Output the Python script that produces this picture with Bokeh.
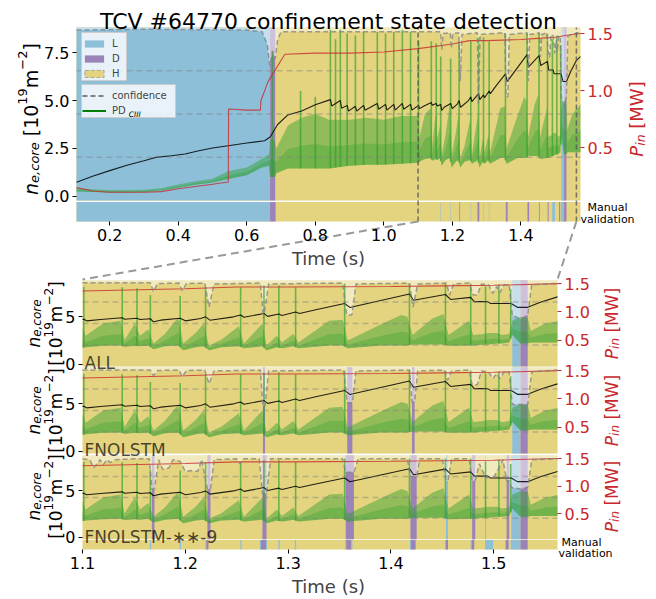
import numpy as np
from math import pi
from bokeh.plotting import figure
from bokeh.models import (Range1d, LinearAxis, FixedTicker, Label, Legend, LegendItem,
                          PrintfTickFormatter)
from bokeh.embed import file_html
from bokeh.resources import INLINE

# ---------------- data ----------------
shot_title = "TCV #64770 confinement state detection"
time_lim = [0.103, 1.574]
zoom_lim = [1.1, 1.562]

ne_t = [0.103, 0.15, 0.2, 0.25, 0.3, 0.334, 0.38, 0.42, 0.46, 0.5, 0.546, 0.6, 0.652, 0.668, 0.69, 0.72,
        0.76, 0.8, 0.844, 0.848, 0.873, 0.877, 0.893, 0.897, 0.917, 0.921, 0.941, 0.945, 0.981, 0.985,
        1.005, 1.009, 1.029, 1.033, 1.054, 1.058, 1.078, 1.082, 1.1013, 1.104, 1.1175, 1.1386, 1.141,
        1.153, 1.156, 1.166, 1.169, 1.176, 1.195, 1.2, 1.215, 1.2197, 1.224, 1.247, 1.2538, 1.257,
        1.2765, 1.28, 1.291, 1.294, 1.3073, 1.311, 1.328, 1.355, 1.36, 1.418, 1.422, 1.453, 1.458,
        1.4776, 1.481, 1.494, 1.497, 1.517, 1.523, 1.533, 1.546, 1.562, 1.574]
ne_v = [0.73, 1.05, 1.34, 1.62, 1.86, 2.03, 2.12, 2.21, 2.38, 2.52, 2.64, 2.78, 2.9, 3.1, 3.75, 4.25,
        4.46, 4.78, 5.05, 4.72, 5.0, 4.6, 4.75, 4.45, 4.7, 4.45, 4.75, 4.5, 4.85, 4.55,
        4.8, 4.5, 4.8, 4.5, 4.85, 4.55, 4.8, 4.5, 4.75, 4.58, 4.72, 4.9, 4.75,
        4.85, 4.72, 4.8, 4.48, 4.65, 4.85, 4.58, 4.83, 5.0, 4.65, 5.0, 5.2, 4.95,
        5.36, 5.05, 5.3, 5.15, 5.5, 5.36, 5.78, 6.4, 5.99, 7.4, 6.75, 7.35, 6.83,
        7.05, 6.6, 6.6, 6.4, 6.4, 6.0, 6.0, 6.55, 7.1, 7.3]

pin_t = [0.103, 0.15, 0.2, 0.3, 0.35, 0.4, 0.45, 0.5, 0.546, 0.547, 0.6, 0.64, 0.641, 0.662, 0.711,
         0.8, 0.9, 1.0, 1.1, 1.2, 1.25, 1.3, 1.4, 1.45, 1.5, 1.562, 1.574]
pin_v = [0.15, 0.12, 0.11, 0.11, 0.115, 0.14, 0.16, 0.18, 0.2, 0.84, 0.83, 0.83, 0.91, 1.08, 1.32,
         1.33, 1.33, 1.34, 1.37, 1.41, 1.44, 1.44, 1.45, 1.46, 1.47, 1.5, 1.5]

pd_t = [0.103, 0.15, 0.2, 0.25, 0.3, 0.35, 0.4, 0.45, 0.5, 0.546, 0.6, 0.643, 0.665, 0.668, 0.682, 0.686,
        0.72, 0.76, 0.8, 0.84, 0.9, 0.95, 1.0, 1.05, 1.099, 1.103, 1.12, 1.137, 1.141, 1.151, 1.156,
        1.164, 1.169, 1.18, 1.193, 1.198, 1.21, 1.218, 1.223, 1.235, 1.252, 1.257, 1.275, 1.279, 1.289,
        1.294, 1.305, 1.31, 1.34, 1.353, 1.358, 1.39, 1.41, 1.416, 1.421, 1.44, 1.451, 1.456, 1.476,
        1.48, 1.49, 1.495, 1.503, 1.508, 1.515, 1.518, 1.526, 1.533, 1.536, 1.55, 1.574]
pd_lo = [0.25, 0.22, 0.2, 0.2, 0.22, 0.3, 0.45, 0.6, 0.72, 0.9, 1.1, 1.5, 1.6, 1.0, 1.0, 1.2,
         1.45, 1.45, 1.45, 1.45, 1.6, 1.65, 1.65, 1.7, 1.75, 1.8, 1.95, 2.0, 1.85, 1.95, 1.9,
         2.0, 1.6, 1.9, 2.0, 1.5, 1.8, 1.9, 1.5, 1.8, 1.9, 1.7, 1.9, 1.5, 1.8,
         1.7, 1.9, 1.7, 2.0, 2.0, 1.7, 2.0, 2.0, 2.0, 2.1, 2.1, 2.1, 1.95, 2.0,
         2.0, 2.1, 2.1, 2.2, 2.2, 2.3, 3.1, 2.2, 2.2, 2.3, 2.3, 2.3]
pd_hi = [0.42, 0.36, 0.32, 0.32, 0.34, 0.42, 0.62, 0.78, 0.92, 1.3, 1.5, 1.95, 2.2, 3.0, 2.9, 2.5,
         3.7, 4.1, 4.3, 4.0, 4.0, 4.1, 4.0, 4.2, 4.2, 3.0, 4.3, 4.6, 2.6, 4.3, 3.0,
         3.7, 2.2, 3.2, 4.9, 2.2, 3.3, 4.3, 2.0, 2.6, 4.0, 2.2, 4.3, 2.0, 3.0,
         2.3, 3.2, 2.3, 4.6, 4.7, 2.5, 4.2, 5.2, 5.0, 3.1, 4.8, 5.3, 3.1, 4.6,
         3.1, 3.2, 3.3, 3.3, 3.1, 3.2, 4.6, 5.0, 4.9, 3.5, 4.3, 4.8]

elm_t = [0.675, 0.757, 0.8, 0.844, 0.859, 0.873, 0.893, 0.917, 0.941, 0.981, 1.005, 1.029, 1.054, 1.078,
         1.1013, 1.1386, 1.153, 1.166, 1.195, 1.2197, 1.2538, 1.2765, 1.291, 1.3073, 1.355, 1.418,
         1.453, 1.4776, 1.492, 1.505, 1.5165]
elm_peak = [7.6, 5.5, 5.2, 8.7, 8.2, 8.7, 8.5, 8.4, 8.6, 8.6, 8.5, 8.6, 8.7, 8.6,
            8.15, 8.1, 8.0, 7.3, 7.2, 8.1, 8.1, 8.3, 8.3, 8.1, 8.5, 8.5,
            8.5, 8.5, 8.2, 8.4, 7.9]

conf_all_t = [0.103, 0.3, 0.6, 0.645, 0.66, 0.667, 0.675, 0.683, 0.69, 0.7, 1.166, 1.169, 1.173, 1.194,
              1.197, 1.201, 1.219, 1.223, 1.228, 1.273, 1.276, 1.281, 1.353, 1.357, 1.362, 1.366,
              1.418, 1.4215, 1.426, 1.454, 1.457, 1.461, 1.476, 1.48, 1.484, 1.488, 1.495, 1.499,
              1.503, 1.506, 1.51, 1.515, 1.518, 1.526, 1.533, 1.537, 1.574]
conf_all_v = [0.985, 0.99, 0.985, 0.975, 0.9, 0.78, 0.86, 0.82, 0.93, 0.975, 0.975, 0.87, 0.965, 0.97,
              0.88, 0.965, 0.97, 0.69, 0.96, 0.97, 0.56, 0.96, 0.97, 0.6, 0.6, 0.96,
              0.97, 0.69, 0.96, 0.97, 0.83, 0.96, 0.97, 0.83, 0.83, 0.96, 0.95, 0.85,
              0.93, 0.86, 0.95, 0.95, 0.6, 0.55, 0.6, 0.95, 0.975]

conf_fno_t = [1.1, 1.166, 1.169, 1.173, 1.194, 1.197, 1.201, 1.219, 1.223, 1.228, 1.273, 1.2755, 1.2775,
              1.281, 1.354, 1.3575, 1.3625, 1.366, 1.418, 1.4205, 1.423, 1.426, 1.452, 1.455, 1.459,
              1.476, 1.479, 1.484, 1.488, 1.495, 1.499, 1.503, 1.506, 1.51, 1.515, 1.518, 1.533, 1.537, 1.562]
conf_fno_v = [0.97, 0.97, 0.905, 0.965, 0.97, 0.89, 0.965, 0.97, 0.81, 0.96, 0.97, 0.55, 0.55,
              0.96, 0.97, 0.59, 0.59, 0.96, 0.97, 0.6, 0.6, 0.96, 0.97, 0.85, 0.96,
              0.97, 0.8, 0.8, 0.96, 0.95, 0.87, 0.93, 0.87, 0.95, 0.95, 0.57, 0.57, 0.95, 0.97]

conf_fno9_t = [1.1, 1.107, 1.111, 1.117, 1.12, 1.124, 1.127, 1.132, 1.15, 1.165, 1.1675, 1.17, 1.174,
               1.178, 1.184, 1.188, 1.195, 1.2, 1.206, 1.212, 1.216, 1.2215, 1.2245, 1.228, 1.25, 1.253,
               1.256, 1.272, 1.275, 1.279, 1.283, 1.353, 1.356, 1.364, 1.368, 1.416, 1.419, 1.425, 1.428,
               1.45, 1.4535, 1.4555, 1.459, 1.476, 1.479, 1.482, 1.486, 1.4915, 1.494, 1.5, 1.505, 1.509,
               1.5125, 1.515, 1.517, 1.526, 1.533, 1.537, 1.562]
conf_fno9_v = [0.96, 0.95, 0.855, 0.95, 0.89, 0.95, 0.915, 0.95, 0.96, 0.96, 0.6, 0.6, 0.95,
               0.835, 0.85, 0.95, 0.93, 0.81, 0.82, 0.81, 0.95, 0.6, 0.6, 0.95, 0.96, 0.9,
               0.96, 0.96, 0.55, 0.55, 0.96, 0.96, 0.8, 0.8, 0.96, 0.96, 0.75, 0.75, 0.96,
               0.96, 0.7, 0.7, 0.96, 0.96, 0.7, 0.7, 0.9, 0.75, 0.735, 0.74, 0.85, 0.95,
               0.7, 0.7, 0.62, 0.6, 0.62, 0.95, 0.96]

# non-H detected states (H elsewhere)
all_st_start = [0.103, 0.668, 1.518, 1.526]
all_st_end = [0.668, 0.683, 1.526, 1.533]
all_st_kind = ["L", "D", "L", "D"]
fno_st_start = [1.2755, 1.3575, 1.4205, 1.518, 1.526]
fno_st_end = [1.2775, 1.3625, 1.423, 1.526, 1.533]
fno_st_kind = ["D", "D", "D", "L", "D"]
fno9_st_start = [1.1675, 1.2215, 1.275, 1.356, 1.419, 1.4535, 1.479, 1.4915, 1.5125, 1.517, 1.526]
fno9_st_end = [1.17, 1.2245, 1.279, 1.364, 1.425, 1.4555, 1.482, 1.4925, 1.515, 1.526, 1.533]
fno9_st_kind = ["D", "D", "D", "D", "D", "L", "D", "L", "D", "L", "D"]

# manual validation (non-H intervals)
man_start = [0.103, 0.668, 1.1655, 1.1945, 1.2195, 1.2205, 1.2535, 1.2725, 1.2735, 1.2785, 1.2905, 1.3065,
             1.3555, 1.3565, 1.3615, 1.4185, 1.4195, 1.4525, 1.4535, 1.4775, 1.4785, 1.4915, 1.5115,
             1.5165, 1.526]
man_end = [0.668, 0.684, 1.1668, 1.1958, 1.2205, 1.2225, 1.2548, 1.2735, 1.2785, 1.2795, 1.2918, 1.3078,
           1.3565, 1.3615, 1.3625, 1.4195, 1.424, 1.4535, 1.4555, 1.4785, 1.481, 1.4995, 1.5145,
           1.526, 1.533]
man_kind = ["L", "D", "L", "L", "L", "D", "L", "L", "D", "L", "L", "L",
            "L", "D", "L", "L", "D", "L", "D", "L", "D", "L", "D", "L", "D"]

panel_names = ["ALL", "FNOLSTM", "FNOLSTM-\u2217\u2217-9"]
top_left_ticks = [0, 2.5, 5, 7.5]
zoom_left_ticks = [0, 5]
pin_ticks = [0.5, 1.0, 1.5]
top_time_ticks = [0.2, 0.4, 0.6, 0.8, 1.0, 1.2, 1.4]
zoom_time_ticks = [1.1, 1.2, 1.3, 1.4, 1.5]

# ---------------- style / layout ----------------
FONT = "DejaVu Sans"
C = {"L": "#8dbfd9", "D": "#9b82b9", "H": "#e4d47f"}
RED = "#c8282c"
GREEN = "#2ca02c"
LEFT_LO, LEFT_HI = -1.32, 8.82
CONF_LO = -0.22
STRIP_TOP = -0.3
PIN_LO, PIN_HI = -0.147, 1.555
WIDTH, HEIGHT = 656, 599

# plot rectangles in page pixels: (x0, x1, y0, y1)
TOP_BOX = (76, 580, 27, 221)
PANEL_BOX = [(82, 557, 280, 366), (82, 557, 367, 453), (82, 557, 455, 549)]
LEGEND_BOX = [(81, 126, 32, 80), (81, 175, 84, 117)]


def to_pin(v):
    return PIN_LO + (v - LEFT_LO) * (PIN_HI - PIN_LO) / (LEFT_HI - LEFT_LO)


def xrange_for(x0, x1, lo, hi):
    s = (x1 - x0) / (hi - lo)
    return Range1d(lo - x0 / s, hi + (WIDTH - x1) / s)


def yrange_for(y0, y1, lo, hi):
    s = (y1 - y0) / (hi - lo)
    return Range1d(lo - (HEIGHT - y1) / s, hi + y0 / s)


def top_px(t):
    x0, x1 = TOP_BOX[0], TOP_BOX[1]
    return x0 + (t - time_lim[0]) * (x1 - x0) / (time_lim[1] - time_lim[0])


def clip_series(t, v, lim):
    """Restrict a series to the shown time window (end values taken on the series)."""
    t = np.asarray(t, float)
    v = np.asarray(v, float)
    m = (t > lim[0]) & (t < lim[1])
    tt = np.concatenate([[lim[0]], t[m], [lim[1]]])
    vv = np.concatenate([[np.interp(lim[0], t, v)], v[m], [np.interp(lim[1], t, v)]])
    return tt, vv


def clip_intervals(s, e, k, lim):
    out = [(max(a, lim[0]), min(b, lim[1]), c) for a, b, c in zip(s, e, k) if b > lim[0] and a < lim[1]]
    return [o[0] for o in out], [o[1] for o in out], [o[2] for o in out]


W = {'n': .634, 'e': .615, ',': .318, 'c': .55, 'o': .612, 'r': .411, ' ': .318, '[': .39, ']': .39,
     '1': .636, '0': .636, '9': .636, '2': .636, 'm': .974, '\u2212': .838, 'P': .603, 'i': .278,
     'M': .863, 'W': .989, 'D': .770}


def tw(s, size):
    return sum(W.get(ch, 0.6) for ch in s) * size


p = figure(width=WIDTH, height=HEIGHT, x_range=Range1d(0, WIDTH), y_range=Range1d(HEIGHT, 0),
           output_backend="svg", toolbar_location=None, tools="",
           min_border_left=0, min_border_right=0, min_border_top=0, min_border_bottom=0,
           x_axis_location=None, y_axis_location=None)
p.outline_line_color = None
p.xgrid.visible = False
p.ygrid.visible = False
p.background_fill_color = "white"
p.border_fill_color = "white"

p.extra_x_ranges = {"xt": xrange_for(TOP_BOX[0], TOP_BOX[1], *time_lim),
                    "xz": xrange_for(PANEL_BOX[0][0], PANEL_BOX[0][1], *zoom_lim)}
p.extra_y_ranges = {"yt": yrange_for(TOP_BOX[2], TOP_BOX[3], LEFT_LO, LEFT_HI),
                    "pt": yrange_for(TOP_BOX[2], TOP_BOX[3], PIN_LO, PIN_HI)}
panel_ylim = [(CONF_LO, LEFT_HI), (CONF_LO, LEFT_HI), (LEFT_LO, LEFT_HI)]
panel_plim = [(to_pin(CONF_LO), PIN_HI), (to_pin(CONF_LO), PIN_HI), (PIN_LO, PIN_HI)]
for i, box in enumerate(PANEL_BOX):
    p.extra_y_ranges[f"y{i}"] = yrange_for(box[2], box[3], *panel_ylim[i])
    p.extra_y_ranges[f"p{i}"] = yrange_for(box[2], box[3], *panel_plim[i])


def txt(x, y, text, size, align="left", baseline="alphabetic", color="black", alpha=1.0,
        style="normal", angle=0.0):
    p.add_layout(Label(x=x, y=HEIGHT - y, x_units="screen", y_units="screen", text=text, angle=angle,
                       text_align=align, text_baseline=baseline, text_font=FONT,
                       text_font_size=f"{size}px", text_font_style=style, text_color=color,
                       text_alpha=alpha))


def rot_text(pieces, base_x, center_y, color="black"):
    total = sum(tw(t, s) for t, s, it, sh in pieces)
    y = center_y + total / 2.0
    for t, s, it, sh in pieces:
        lead = len(t) - len(t.lstrip(" "))
        y -= tw(" " * lead, s)
        core = t.lstrip(" ")
        txt(base_x - sh, y, core, s, color=color, style="italic" if it else "normal", angle=pi / 2)
        y -= tw(core, s)


def style_axis(ax, color="black", size="16px"):
    ax.axis_line_color = None
    ax.major_tick_line_color = color
    ax.major_tick_out = 4
    ax.major_tick_in = 0
    ax.minor_tick_line_color = None
    ax.major_label_text_font = FONT
    ax.major_label_text_font_size = size
    ax.major_label_text_color = color
    ax.major_label_standoff = 3
    ax.axis_label_text_font = FONT
    ax.axis_label_text_font_size = "18px"
    ax.axis_label_text_font_style = "normal"
    ax.axis_label_standoff = 4


def add_axes(xn, yn, pn, xlim, ylim, left_ticks, left_fmt, time_ticks=None):
    la = LinearAxis(x_range_name=xn, y_range_name=yn, fixed_location=xlim[0],
                    ticker=FixedTicker(ticks=left_ticks), formatter=PrintfTickFormatter(format=left_fmt))
    style_axis(la)
    p.add_layout(la, "left")
    ra = LinearAxis(x_range_name=xn, y_range_name=pn, fixed_location=xlim[1],
                    ticker=FixedTicker(ticks=pin_ticks), formatter=PrintfTickFormatter(format="%.1f"))
    style_axis(ra, RED)
    p.add_layout(ra, "right")
    if time_ticks is not None:
        xa = LinearAxis(x_range_name=xn, y_range_name=yn, fixed_location=ylim[0],
                        ticker=FixedTicker(ticks=time_ticks), formatter=PrintfTickFormatter(format="%.1f"),
                        axis_label="Time (s)")
        style_axis(xa)
        p.add_layout(xa, "below")


def draw_content(xn, yn, pn, xlim, ylo, conf_t, conf_v, st_s, st_e, st_k, strip):
    kw = dict(x_range_name=xn, y_range_name=yn)
    p.quad(left=[xlim[0]], right=[xlim[1]], bottom=CONF_LO, top=LEFT_HI, fill_color=C["H"],
           line_color=None, **kw)
    s, e, k = clip_intervals(st_s, st_e, st_k, xlim)
    p.quad(left=s, right=e, bottom=CONF_LO, top=LEFT_HI, fill_color=[C[x] for x in k], line_color=None, **kw)
    ct, cv = clip_series(conf_t, conf_v, xlim)
    cy = CONF_LO + cv * (LEFT_HI - CONF_LO)
    p.varea(x=ct, y1=cy, y2=LEFT_HI, fill_color="white", fill_alpha=0.5, **kw)
    if strip:
        p.quad(left=[xlim[0]], right=[xlim[1]], bottom=ylo, top=STRIP_TOP, fill_color=C["H"],
               line_color=None, **kw)
        s, e, k = clip_intervals(man_start, man_end, man_kind, xlim)
        p.quad(left=s, right=e, bottom=ylo, top=STRIP_TOP, fill_color=[C[x] for x in k], line_color=None, **kw)
    bt, blo = clip_series(pd_t, pd_lo, xlim)
    _, bhi = clip_series(pd_t, pd_hi, xlim)
    p.varea(x=bt, y1=blo, y2=bhi, fill_color=GREEN, fill_alpha=0.45, **kw)
    p.varea(x=bt, y1=blo, y2=blo + 0.45 * (bhi - blo), fill_color=GREEN, fill_alpha=0.3, **kw)
    et = np.array([t for t in elm_t if xlim[0] <= t <= xlim[1]])
    ep = np.array([v for t, v in zip(elm_t, elm_peak) if xlim[0] <= t <= xlim[1]])
    p.segment(x0=et, y0=np.interp(et, pd_t, pd_lo), x1=et, y1=ep,
              line_color=GREEN, line_alpha=0.65, line_width=1.6, **kw)
    nt, nv = clip_series(ne_t, ne_v, xlim)
    p.line(nt, nv, line_color="black", line_alpha=0.85, line_width=1.1, **kw)
    qt, qv = clip_series(pin_t, pin_v, xlim)
    p.line(qt, qv, x_range_name=xn, y_range_name=pn, line_color=RED, line_alpha=0.8, line_width=1.1)
    for c in (0.25, 0.5, 0.75):
        yy = CONF_LO + c * (LEFT_HI - CONF_LO)
        p.line(x=list(xlim), y=[yy, yy], line_color="gray", line_alpha=0.45, line_dash="6 4",
               line_width=1.5, **kw)
    p.line(ct, cy, line_color="gray", line_alpha=0.75, line_dash="5 3", line_width=1.5, **kw)


# ---------------- top panel ----------------
draw_content("xt", "yt", "pt", time_lim, LEFT_LO, conf_all_t, conf_all_v,
             all_st_start, all_st_end, all_st_kind, True)
for zx in zoom_lim:
    p.line(x=[zx, zx], y=[LEFT_LO, LEFT_HI], x_range_name="xt", y_range_name="yt",
           line_color="#555555", line_alpha=0.8, line_dash="5 3", line_width=1.5)

# ---------------- zoom panels ----------------
panel_conf = [(conf_all_t, conf_all_v), (conf_fno_t, conf_fno_v), (conf_fno9_t, conf_fno9_v)]
panel_states = [(all_st_start, all_st_end, all_st_kind), (fno_st_start, fno_st_end, fno_st_kind),
                (fno9_st_start, fno9_st_end, fno9_st_kind)]
for i in range(3):
    draw_content("xz", f"y{i}", f"p{i}", zoom_lim, panel_ylim[i][0], panel_conf[i][0], panel_conf[i][1],
                 *panel_states[i], i == 2)

# connectors from the zoom window to the panels
zb = PANEL_BOX[0]
for zx, ex in zip(zoom_lim, (zb[0], zb[1])):
    p.line(x=[top_px(zx), ex], y=[TOP_BOX[3], zb[2] - 1], line_color="#999999",
           line_dash="8 5", line_width=2)

# legend frames (drawn below the legend entries)
p.quad(left=[b[0] for b in LEGEND_BOX], right=[b[1] for b in LEGEND_BOX],
       top=[b[2] for b in LEGEND_BOX], bottom=[b[3] for b in LEGEND_BOX],
       fill_color="white", fill_alpha=0.8, line_color="#cccccc", line_width=1)

# axes
add_axes("xt", "yt", "pt", time_lim, (LEFT_LO, LEFT_HI), top_left_ticks, "%.1f", top_time_ticks)
for i in range(3):
    add_axes("xz", f"y{i}", f"p{i}", zoom_lim, panel_ylim[i], zoom_left_ticks, "%d",
             zoom_time_ticks if i == 2 else None)

# legends (swatch renderers sit outside the visible area)
off = [WIDTH + 50]
rL = p.quad(left=off, right=off, top=[0], bottom=[0], fill_color=C["L"], line_color=None)
rD = p.quad(left=off, right=off, top=[0], bottom=[0], fill_color=C["D"], line_color=None)
rH = p.quad(left=off, right=off, top=[0], bottom=[0], fill_color=C["H"], line_color="gray",
            line_dash="4 2", line_alpha=0.6)
rC = p.line(x=off, y=[0], line_color="gray", line_dash="5 3", line_width=2)
rP = p.line(x=off, y=[0], line_color="green", line_width=2)

PAD, ITEM_H, GAP = 2, 12, 3


def mk_legend(items, box):
    n = len(items)
    h = 2 * PAD + n * ITEM_H + (n - 1) * GAP
    top = (box[2] + box[3]) / 2.0 - h / 2.0
    lg = Legend(items=items, location=(box[0] + 1, HEIGHT - (top + h)), margin=0, padding=PAD,
                spacing=GAP, label_height=ITEM_H, label_width=6, glyph_height=9, glyph_width=24,
                label_standoff=6, label_text_font=FONT, label_text_font_size="10px",
                border_line_color=None, background_fill_alpha=0.0)
    p.add_layout(lg, "center")
    return top


mk_legend([LegendItem(label="L", renderers=[rL]), LegendItem(label="D", renderers=[rD]),
           LegendItem(label="H", renderers=[rH])], LEGEND_BOX[0])
t2 = mk_legend([LegendItem(label="confidence", renderers=[rC]), LegendItem(label="PD", renderers=[rP])],
               LEGEND_BOX[1])

# texts
txt(328, 21, shot_title, 22, align="center")
rot_text([("n", 19, True, 0), ("e,core", 13, True, -4), (" [10", 19, False, 0), ("19", 13, False, 8),
          ("m", 19, False, 0), ("\u22122", 13, False, 8), ("]", 19, False, 0)], 30, 118.5)
rot_text([("P", 18, True, 0), ("in", 12.5, True, -4), (" [MW]", 18, False, 0)], 636, 118.5, RED)
txt(607, 207, "Manual", 11, align="center", baseline="middle")
txt(607, 219, "validation", 11, align="center", baseline="middle")
pd_label_x = LEGEND_BOX[1][0] + 1 + PAD + 24 + 6
txt(pd_label_x + tw("PD", 10) + 0.5, t2 + PAD + ITEM_H + GAP + ITEM_H / 2 + 5.5, "CIII", 7.5,
    style="italic")

label_center = [323, 410, 496]
name_base = [362.7, 449.3, 536.7]
for i in range(3):
    txt(84, name_base[i], panel_names[i], 17, alpha=0.7)
    rot_text([("n", 17, True, 0), ("e,core", 12, True, -3.5)], 33, label_center[i])
    rot_text([("[10", 17, False, 0), ("19", 12, False, 7), ("m", 17, False, 0),
              ("\u22122", 12, False, 7), ("]", 17, False, 0)], 55, label_center[i])
    rot_text([("P", 17, True, 0), ("in", 12, True, -3.5), (" [MW]", 17, False, 0)], 611, label_center[i], RED)
txt(581, 541.7, "Manual", 11, align="center", baseline="middle")
txt(585, 553.3, "validation", 11, align="center", baseline="middle")

open("out.html", "w").write(file_html(p, INLINE))
